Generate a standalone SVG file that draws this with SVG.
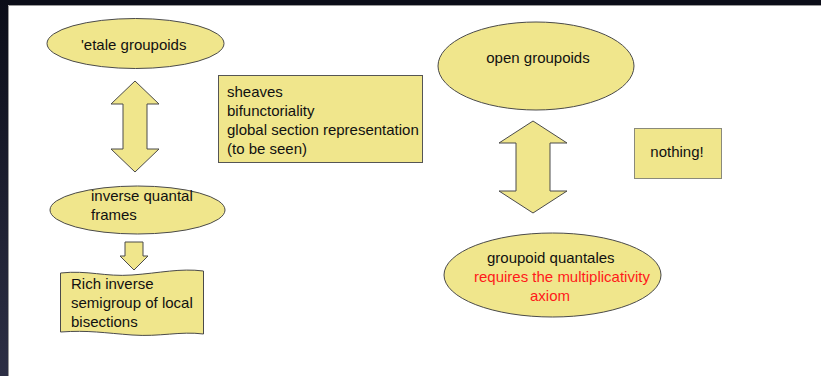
<svg xmlns="http://www.w3.org/2000/svg" width="821" height="376" viewBox="0 0 821 376">
  <defs>
    <linearGradient id="frameSide" x1="0" y1="0" x2="0" y2="1">
      <stop offset="0" stop-color="#0b0d18"/>
      <stop offset="1" stop-color="#2d2f45"/>
    </linearGradient>
    <style>
      .shape { fill: #f0e68c; stroke: #4a4a4a; stroke-width: 1; }
      .box { fill: #f0e68c; stroke: #555555; stroke-width: 1; }
      .lbl { font-family: "Liberation Sans", Arial, sans-serif; font-size: 15px; fill: #111111; }
      .red { fill: #ff1a1a; }
    </style>
  </defs>

  <!-- slide frame -->
  <rect x="0" y="0" width="821" height="376" fill="#ffffff"/>
  <rect x="0" y="0" width="821" height="5" fill="#0b0d18"/>
  <rect x="0" y="0" width="8" height="376" fill="url(#frameSide)"/>
  <line x1="8.5" y1="5.5" x2="821" y2="5.5" stroke="#9a9a9a" stroke-width="1"/>
  <line x1="8.5" y1="5.5" x2="8.5" y2="376" stroke="#9a9a9a" stroke-width="1"/>

  <!-- connectors -->
  <g id="connectors">
    <path class="shape" d="M135,81 L159,104 L147,104 L147,149 L159,149 L135,172 L111,149 L123,149 L123,104 L111,104 Z"/>
    <path class="shape" d="M125,242 L143,242 L143,256 L148,256 L134,270 L120,256 L125,256 Z"/>
    <path class="shape" d="M533,121 L567,143 L550,143 L550,191 L567,191 L533,213 L499,191 L516,191 L516,143 L499,143 Z"/>
  </g>

  <g id="etale-groupoids">
    <ellipse class="shape" cx="135.5" cy="43.5" rx="88.5" ry="25"/>
    <text class="lbl" x="81" y="50">'etale groupoids</text>
  </g>

  <g id="sheaves">
    <rect class="box" x="218.5" y="75.5" width="204" height="87"/>
    <text class="lbl" x="227" y="97">sheaves</text>
    <text class="lbl" x="227" y="116">bifunctoriality</text>
    <text class="lbl" x="227" y="135">global section representation</text>
    <text class="lbl" x="227" y="154">(to be seen)</text>
  </g>

  <g id="inverse-quantal-frames">
    <ellipse class="shape" cx="137.5" cy="210" rx="87.5" ry="24"/>
    <text class="lbl" x="91" y="201">inverse quantal</text>
    <text class="lbl" x="91" y="220">frames</text>
  </g>

  <g id="rich-inverse-semigroup">
    <path class="shape" d="M60.5,273 C88,270 105,277 132,275 C160,273 180,268 203.5,271 L203.5,334 C180,331 160,337 132,335 C105,333 88,330 60.5,332 Z"/>
    <text class="lbl" x="71" y="289">Rich inverse</text>
    <text class="lbl" x="71" y="308">semigroup of local</text>
    <text class="lbl" x="71" y="327">bisections</text>
  </g>

  <g id="open-groupoids">
    <ellipse class="shape" cx="536" cy="66" rx="98" ry="44"/>
    <text class="lbl" x="538" y="63" text-anchor="middle">open groupoids</text>
  </g>

  <g id="nothing">
    <rect class="box" x="634.5" y="128.5" width="87" height="50" style="stroke:#8a8a7a"/>
    <text class="lbl" x="677" y="157" text-anchor="middle">nothing!</text>
  </g>

  <g id="groupoid-quantales">
    <ellipse class="shape" cx="552.5" cy="275" rx="108.5" ry="42"/>
    <text class="lbl" x="487" y="263">groupoid quantales</text>
    <text class="lbl red" x="474" y="282">requires the multiplicativity</text>
    <text class="lbl red" x="530" y="301">axiom</text>
  </g>
</svg>
